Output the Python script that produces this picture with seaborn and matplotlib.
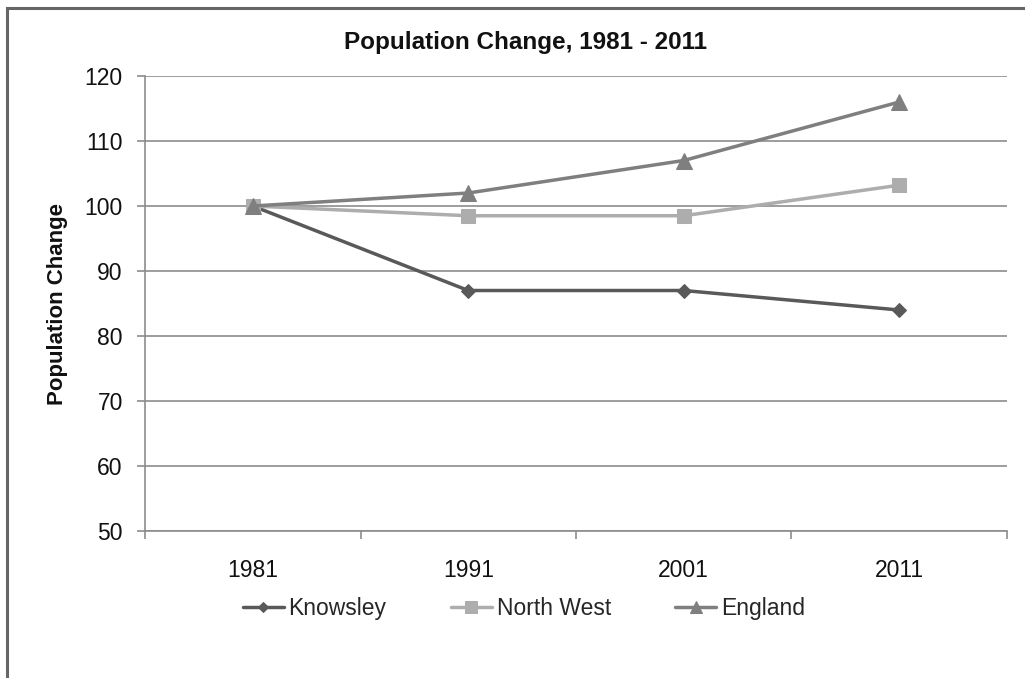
import matplotlib
matplotlib.use("Agg")
import matplotlib.pyplot as plt
from matplotlib.patches import Rectangle
from matplotlib.ticker import FixedLocator
import pandas as pd
import seaborn as sns

# Population index (1981 = 100)
years = ["1981", "1991", "2001", "2011"]
knowsley = [100, 87, 87, 84]
north_west = [100, 98.5, 98.5, 103.2]
england = [100, 102, 107, 116]

series_names = ["Knowsley", "North West", "England"]
series_values = [knowsley, north_west, england]
y_ticks = [50, 60, 70, 80, 90, 100, 110, 120]

styles = {
    "Knowsley": dict(color="#595959", marker="D", markersize=7),
    "North West": dict(color="#adadad", marker="s", markersize=10),
    "England": dict(color="#7f7f7f", marker="^", markersize=11),
}

sns.set_theme(style="white")
plt.rcParams["font.family"] = ["Liberation Sans", "DejaVu Sans"]

fig = plt.figure(figsize=(10.25, 6.78), dpi=100)
fig.patch.set_facecolor("white")
ax = fig.add_axes([0.1415, 0.2168, 0.8409, 0.6711])

frames = []
for name, vals in zip(series_names, series_values):
    frames.append(pd.DataFrame({"year": years, "value": vals, "area": name}))
df = pd.concat(frames, ignore_index=True)

for name in series_names:
    st = styles[name]
    sns.lineplot(
        data=df[df["area"] == name], x="year", y="value", ax=ax,
        color=st["color"], marker=st["marker"], markersize=st["markersize"],
        markeredgecolor=st["color"], linewidth=2.5, label=name, sort=False,
    )

grid_col = "#8c8c8c"
ax.set_xlim(-0.5, 3.5)
ax.set_ylim(50, 120)
ax.set_yticks(y_ticks)
ax.yaxis.grid(True, color=grid_col, linewidth=1.2)
ax.xaxis.grid(False)
ax.set_axisbelow(True)
for side in ["top", "right"]:
    ax.spines[side].set_visible(False)
for side in ["left", "bottom"]:
    ax.spines[side].set_color(grid_col)
    ax.spines[side].set_linewidth(1.2)

ax.xaxis.set_minor_locator(FixedLocator([-0.5, 0.5, 1.5, 2.5, 3.5]))
ax.tick_params(axis="x", which="major", length=0, pad=20, labelsize=16.5,
               labelcolor="#111111")
ax.tick_params(axis="x", which="minor", bottom=True, length=6, width=1.2,
               color=grid_col, direction="out")
ax.tick_params(axis="y", which="major", left=True, length=6, width=1.2,
               color=grid_col, direction="out", pad=10, labelsize=16.5,
               labelcolor="#111111")

ax.set_xlabel("")
ax.set_ylabel("Population Change", fontsize=16, fontweight="bold",
              color="#111111", va="center")
ax.yaxis.set_label_coords(-0.101, 0.5)

handles, labels = ax.get_legend_handles_labels()
ax.get_legend().remove()
fig.legend(handles, labels, loc="center", bbox_to_anchor=(0.511, 0.103),
           ncol=3, frameon=False, fontsize=16.5, handlelength=1.8,
           handletextpad=0.2, columnspacing=2.8, borderaxespad=0,
           markerscale=0.8)

fig.text(0.513, 0.938, "Population Change, 1981 - 2011", ha="center",
         va="center", fontsize=17.5, fontweight="bold", color="#111111")

# Chart-area frame
fig.add_artist(Rectangle((7 / 1025, -0.2), 1.2, 1.2 + (1 - 7.5 / 678) - 1.0,
                         transform=fig.transFigure, fill=False,
                         edgecolor="#666666", linewidth=2.2, clip_on=False))

fig.savefig("out.png", dpi=100, facecolor="white")
